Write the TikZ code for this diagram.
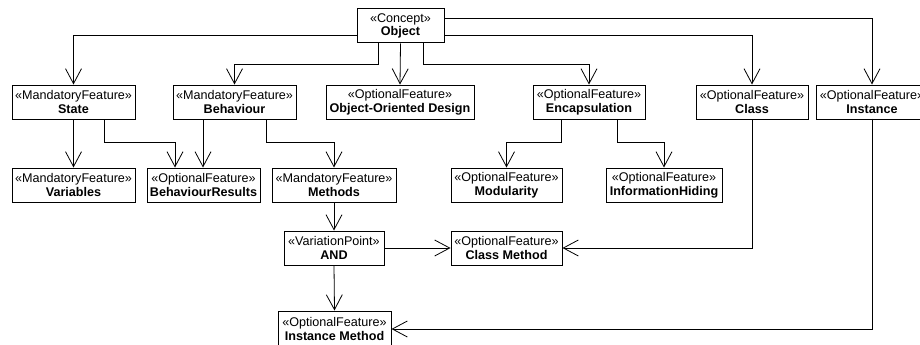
\documentclass[tikz,border=0pt]{standalone}
\usepackage{fontspec}
\setmainfont{Liberation Sans}
\usetikzlibrary{arrows.meta}
\tikzset{
  box/.style={draw=black, line width=1pt, fill=white, minimum height=34pt, inner sep=0pt, align=center,
    font=\fontsize{12.6}{13.6}\selectfont},
  conn/.style={draw=black, line width=0.8pt, -{Straight Barb[length=15pt,width=16pt,line width=0.8pt]}},
}
\begin{document}
\begin{tikzpicture}[x=1pt,y=-1pt]
\useasboundingbox (0,0) rectangle (920,345);
% first row
\node[box, minimum width=87pt]  (obj)  at (400.5,26)  {«Concept»\\\textbf{Object}};
\node[box, minimum width=123pt] (state) at (73.5,102) {«MandatoryFeature»\\\textbf{State}};
\node[box, minimum width=123pt] (beh)  at (234.5,102) {«MandatoryFeature»\\\textbf{Behaviour}};
\node[box, minimum width=148pt] (ood)  at (400,102)   {«OptionalFeature»\\\textbf{Object-Oriented Design}};
\node[box, minimum width=112pt] (enc)  at (589,102)   {«OptionalFeature»\\\textbf{Encapsulation}};
\node[box, minimum width=112pt] (cls)  at (752,102)   {«OptionalFeature»\\\textbf{Class}};
\node[box, minimum width=112pt] (inst) at (872,102)   {«OptionalFeature»\\\textbf{Instance}};
% second row
\node[box, minimum width=123pt] (var)  at (73.5,185)  {«MandatoryFeature»\\\textbf{Variables}};
\node[box, minimum width=113pt] (br)   at (203.5,185) {«OptionalFeature»\\\textbf{BehaviourResults}};
\node[box, minimum width=124pt] (meth) at (334,185)   {«MandatoryFeature»\\\textbf{Methods}};
\node[box, minimum width=111pt] (mod)  at (506.5,185) {«OptionalFeature»\\\textbf{Modularity}};
\node[box, minimum width=116pt] (ih)   at (664,185)   {«OptionalFeature»\\\textbf{InformationHiding}};
% third row
\node[box, minimum width=100pt] (and)  at (334,248)   {«VariationPoint»\\\textbf{AND}};
\node[box, minimum width=111pt] (cm)   at (506.5,248) {«OptionalFeature»\\\textbf{Class Method}};
% fourth row
\node[box, minimum width=113pt, minimum height=36pt] (im) at (334.5,329) {«OptionalFeature»\\\textbf{Instance Method}};
% connectors
\draw[conn] ([yshift=-9pt]obj.west) -| (state.north);
\draw[conn] ([xshift=-22.5pt]obj.south) -- ++(0,21) -| (beh.north);
\draw[conn] (obj.south) -- (ood.north);
\draw[conn] ([xshift=22.5pt]obj.south) -- ++(0,21) -| (enc.north);
\draw[conn] ([yshift=-9pt]obj.east) -| (cls.north);
\draw[conn] ([yshift=8pt]obj.east) -| (inst.north);
\draw[conn] (state.south) -- (var.north);
\draw[conn] ([xshift=30.5pt]state.south) -- ++(0,23) -| ([xshift=-28.5pt]br.north);
\draw[conn] ([xshift=-31.5pt]beh.south) -- ([xshift=-31.5pt]beh.south |- br.north);
\draw[conn] ([xshift=31.5pt]beh.south) -- ++(0,23) -| (meth.north);
\draw[conn] ([xshift=-28pt]enc.south) -- ++(0,23) -| (mod.north);
\draw[conn] ([xshift=28pt]enc.south) -- ++(0,23) -| (ih.north);
\draw[conn] (meth.south) -- (and.north);
\draw[conn] (and.east) -- (cm.west);
\draw[conn] (cls.south) |- (cm.east);
\draw[conn] (and.south) -- (im.north);
\draw[conn] ([yshift=1pt]inst.south) |- (im.east);
\end{tikzpicture}
\end{document}
